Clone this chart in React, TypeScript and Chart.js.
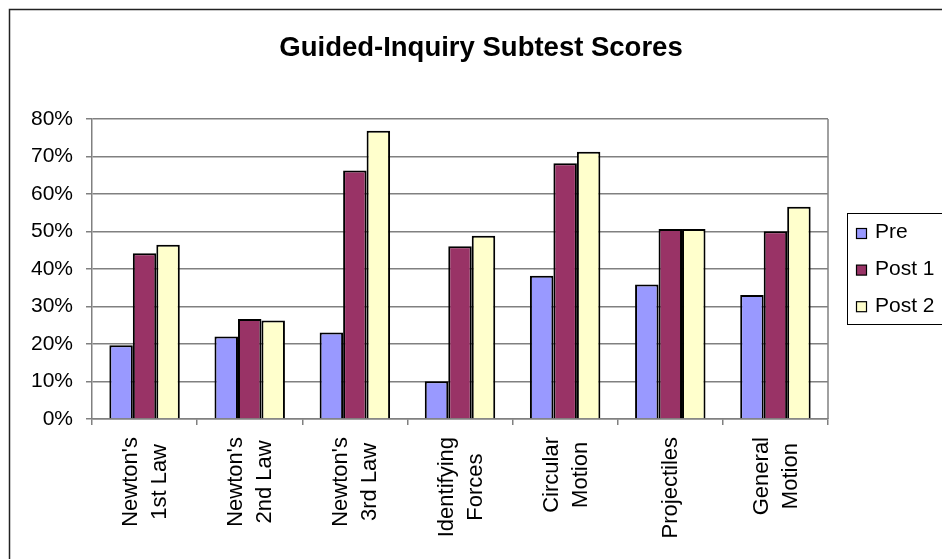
import React, { useEffect, useRef } from "react";
import { Chart, registerables } from "chart.js";

Chart.register(...registerables);

const chartTitle = "Guided-Inquiry Subtest Scores";
const categories: string[][] = [
  ["Newton's", "1st Law"],
  ["Newton's", "2nd Law"],
  ["Newton's", "3rd Law"],
  ["Identifying", "Forces"],
  ["Circular", "Motion"],
  ["Projectiles"],
  ["General", "Motion"],
];
const seriesNames = ["Pre", "Post 1", "Post 2"];
const preScores = [19.7, 22.0, 23.1, 10.1, 38.2, 35.9, 33.1];
const post1Scores = [44.2, 26.7, 66.3, 46.1, 68.2, 50.7, 50.1];
const post2Scores = [46.5, 26.3, 76.9, 48.9, 71.3, 50.7, 56.6];
const seriesColors = ["#9999FF", "#993366", "#FFFFCC"];
const yMin = 0;
const yMax = 80;
const yStep = 10;

const FONT = "'Liberation Sans', Arial, Helvetica, sans-serif";
const GRID = "#808080";

const decorPlugin = {
  id: "decor",
  beforeDraw(chart: any) {
    const ctx = chart.ctx;
    ctx.save();
    ctx.fillStyle = "#ffffff";
    ctx.fillRect(0, 0, chart.width, chart.height);
    ctx.restore();
  },
  afterDraw(chart: any) {
    const ctx = chart.ctx;
    const area = chart.chartArea;
    ctx.save();
    // outer chart border (clipped at right/bottom)
    ctx.strokeStyle = "#222222";
    ctx.lineWidth = 1.5;
    ctx.strokeRect(9.5, 9.5, 2000, 2000);

    // plot area right border
    ctx.strokeStyle = GRID;
    ctx.lineWidth = 1.5;
    ctx.beginPath();
    ctx.moveTo(area.right, area.top);
    ctx.lineTo(area.right, area.bottom);
    ctx.stroke();

    // title
    ctx.fillStyle = "#000";
    ctx.font = `bold 27.5px ${FONT}`;
    ctx.textAlign = "center";
    ctx.textBaseline = "alphabetic";
    ctx.fillText(chartTitle, 481, 56);

    // category labels, rotated
    const xs = chart.scales.x;
    ctx.font = `22px ${FONT}`;
    const labels = chart.data.labels as any[];
    labels.forEach((lab, i) => {
      const lines: string[] = Array.isArray(lab) ? lab : [lab];
      const cx = xs.getPixelForTick(i);
      const maxW = Math.max(...lines.map((l) => ctx.measureText(l).width));
      const cy = area.bottom + 18 + maxW / 2;
      const n = lines.length;
      const pitch = 29;
      lines.forEach((l, j) => {
        const off = (j - (n - 1) / 2) * pitch + 7;
        ctx.save();
        ctx.translate(cx, cy);
        ctx.rotate(-Math.PI / 2);
        ctx.textAlign = "center";
        ctx.textBaseline = "alphabetic";
        ctx.fillText(l, 0, off);
        ctx.restore();
      });
    });

    // legend
    ctx.strokeStyle = "#000";
    ctx.lineWidth = 1;
    ctx.strokeRect(847.5, 213.5, 200, 111);
    ctx.font = `21px ${FONT}`;
    ctx.textAlign = "left";
    ctx.textBaseline = "alphabetic";
    chart.data.datasets.forEach((ds: any, i: number) => {
      const top = 228.5 + i * 36.6;
      ctx.fillStyle = ds.backgroundColor;
      ctx.fillRect(856.5, top, 10, 10);
      ctx.strokeStyle = "#000";
      ctx.lineWidth = 1.2;
      ctx.strokeRect(856.5, top, 10, 10);
      ctx.fillStyle = "#000";
      ctx.fillText(ds.label, 875, 237.5 + i * 37.1);
    });
    ctx.restore();
  },
};

export default function App() {
  const ref = useRef<HTMLCanvasElement | null>(null);
  useEffect(() => {
    if (!ref.current) return;
    const values = [preScores, post1Scores, post2Scores];
    const chart = new Chart(ref.current, {
      type: "bar",
      data: {
        labels: categories,
        datasets: seriesNames.map((name, i) => ({
          label: name,
          data: values[i],
          backgroundColor: seriesColors[i],
          borderColor: "#000000",
          borderWidth: 2,
          categoryPercentage: 0.67,
          barPercentage: 1,
        })),
      },
      options: {
        responsive: false,
        animation: false,
        devicePixelRatio: 1,
        layout: { padding: { top: 119, right: 114, bottom: 0, left: 0 } },
        plugins: {
          legend: { display: false },
          title: { display: false },
          tooltip: { enabled: false },
        },
        scales: {
          x: {
            grid: {
              display: true,
              offset: true,
              drawOnChartArea: false,
              drawTicks: true,
              tickLength: 6,
              color: GRID,
              lineWidth: 1.5,
            },
            border: { display: true, color: GRID, width: 1.5 },
            ticks: { display: false },
            afterFit: (s: any) => {
              s.height = 140;
            },
          },
          y: {
            min: yMin,
            max: yMax,
            ticks: {
              stepSize: yStep,
              color: "#000",
              padding: 13,
              font: { family: FONT, size: 21 },
              callback: (v: any) => `${v}%`,
            },
            grid: {
              color: GRID,
              lineWidth: 1.5,
              tickLength: 6,
              drawTicks: true,
            },
            border: { display: true, color: GRID, width: 1.5 },
            afterFit: (s: any) => {
              s.width = 92;
            },
          },
        },
      },
      plugins: [decorPlugin],
    });
    return () => chart.destroy();
  }, []);
  return (
    <div style={{ position: "absolute", left: 0, top: 0, width: 942, height: 559 }}>
      <canvas ref={ref} width={942} height={559} />
    </div>
  );
}
